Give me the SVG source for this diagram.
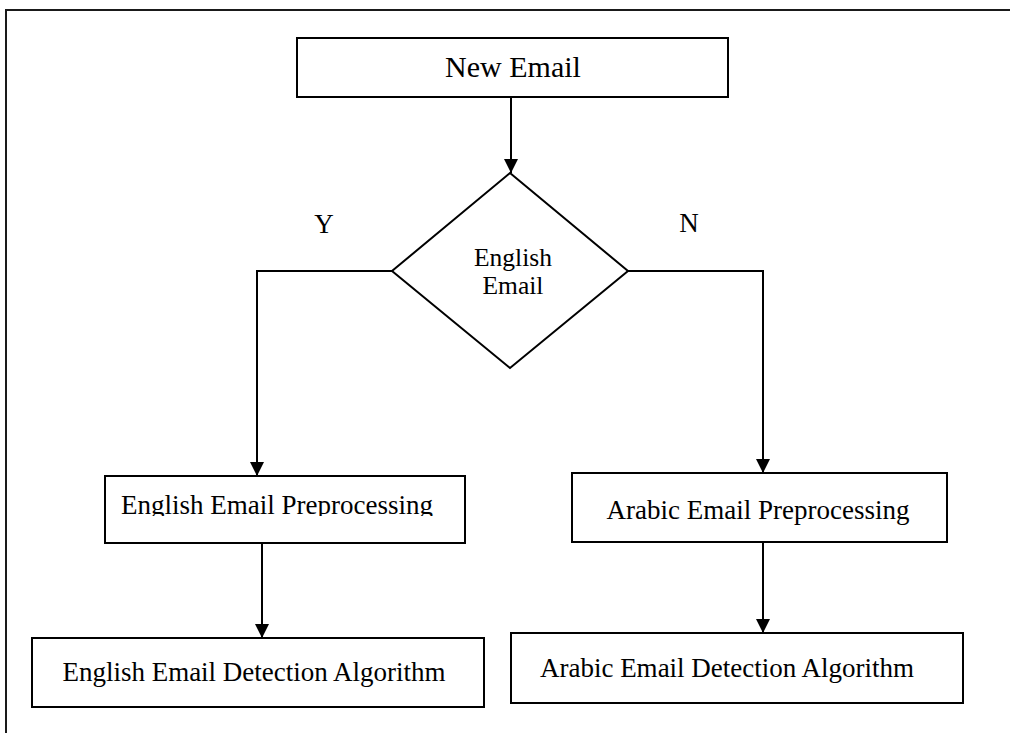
<svg xmlns="http://www.w3.org/2000/svg" width="1010" height="733" viewBox="0 0 1010 733">
  <style>
    .box { fill: #ffffff; stroke: #000000; stroke-width: 2; }
    .frame { fill: none; stroke: #1a1a1a; stroke-width: 2; }
    .wire { fill: none; stroke: #000000; stroke-width: 2; }
    .lbl { font-family: "Liberation Serif", "Times New Roman", serif; font-size: 27px; fill: #000000; text-anchor: middle; }
    .small { font-size: 25.5px; }
  </style>
  <defs>
    <marker id="arrow" viewBox="0 0 14 14" refX="14" refY="7" markerWidth="14" markerHeight="14" markerUnits="userSpaceOnUse" orient="auto">
      <path d="M0,0 L14,7 L0,14 Z" fill="#000000"/>
    </marker>
    <!-- text frame of the English preprocessing step cuts off descenders -->
    <clipPath id="engPreClip">
      <rect x="100" y="476" width="365" height="40"/>
    </clipPath>
  </defs>

  <rect width="1010" height="733" fill="#ffffff"/>

  <!-- page frame: top and left rules only -->
  <path class="frame" d="M6,733 L6,10 L1010,10"/>

  <g id="connectors">
    <line class="wire" x1="511" y1="97" x2="511" y2="173" marker-end="url(#arrow)"/>
    <polyline class="wire" points="392,271 257,271 257,476" marker-end="url(#arrow)"/>
    <polyline class="wire" points="628,271 763,271 763,473" marker-end="url(#arrow)"/>
    <line class="wire" x1="262" y1="543" x2="262" y2="638" marker-end="url(#arrow)"/>
    <line class="wire" x1="763" y1="542" x2="763" y2="633" marker-end="url(#arrow)"/>
  </g>

  <g id="labels">
    <text class="lbl" x="324" y="233">Y</text>
    <text class="lbl" x="689" y="232">N</text>
  </g>

  <g id="new-email">
    <rect class="box" x="297" y="38" width="431" height="59"/>
    <text class="lbl" x="513" y="77" style="font-size:30px">New Email</text>
  </g>

  <g id="english-check">
    <polygon class="box" points="510,173 628,271 510,368 392,271"/>
    <text class="lbl small" x="513" y="266">English</text>
    <text class="lbl small" x="513" y="294">Email</text>
  </g>

  <g id="english-preprocessing">
    <rect class="box" x="105" y="476" width="360" height="67"/>
    <text class="lbl" x="277" y="514" clip-path="url(#engPreClip)">English Email Preprocessing</text>
  </g>

  <g id="arabic-preprocessing">
    <rect class="box" x="572" y="473" width="375" height="69"/>
    <text class="lbl" x="758" y="519">Arabic Email Preprocessing</text>
  </g>

  <g id="english-detection">
    <rect class="box" x="32" y="638" width="452" height="69"/>
    <text class="lbl" x="254" y="681">English Email Detection Algorithm</text>
  </g>

  <g id="arabic-detection">
    <rect class="box" x="511" y="633" width="452" height="70"/>
    <text class="lbl" x="727" y="677">Arabic Email Detection Algorithm</text>
  </g>
</svg>
